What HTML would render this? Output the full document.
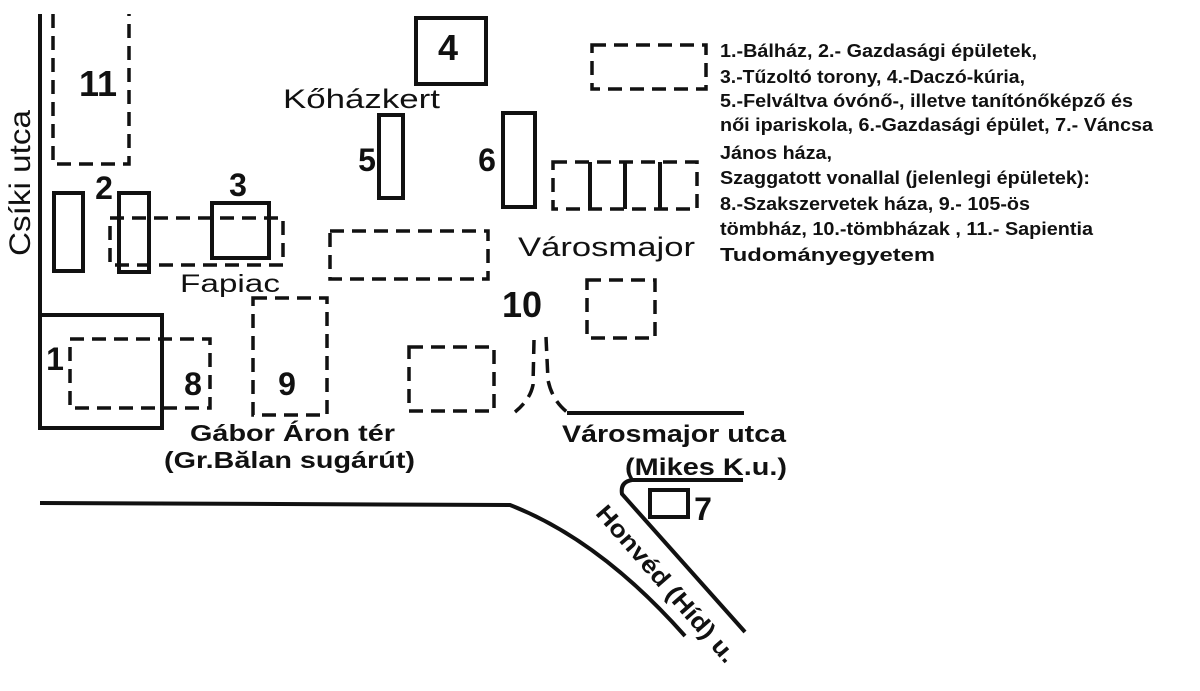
<!DOCTYPE html>
<html><head><meta charset="utf-8"><style>
html,body{margin:0;padding:0;background:#fff;width:1200px;height:691px;overflow:hidden}
svg{display:block}
text{font-family:"Liberation Sans",sans-serif;fill:#111}
.b{font-weight:bold}
</style></head><body>
<svg width="1200" height="691" viewBox="0 0 1200 691">
<g fill="none" stroke="#111" stroke-width="4">
<line x1="40" y1="14" x2="40" y2="428"/>
<rect x="40" y="315" width="122" height="113"/>
<rect x="54" y="193" width="29" height="78"/>
<rect x="119" y="193" width="30" height="79"/>
<rect x="212" y="203" width="57" height="55"/>
<rect x="416" y="18" width="70" height="66"/>
<rect x="379" y="115" width="24" height="83"/>
<rect x="503" y="113" width="32" height="94"/>
<rect x="650" y="490" width="38" height="27"/>
<path d="M40 503 L510 505 Q600 540 685 636"/>
<path d="M743 480 L632 480 Q620 482 622 494 L745 632"/>
<line x1="567" y1="413" x2="744" y2="413"/>
</g>
<g fill="none" stroke="#111" stroke-width="3.5" stroke-dasharray="14 8">
<path d="M53 14 L53 164 L129 164 L129 14"/>
<rect x="110" y="218" width="173" height="47"/>
<rect x="70" y="339" width="140" height="69"/>
<rect x="253" y="298" width="74" height="117"/>
<rect x="592" y="45" width="114" height="44"/>
<rect x="553" y="162" width="144" height="47"/>
<rect x="330" y="231" width="158" height="48"/>
<rect x="587" y="280" width="68" height="58"/>
<rect x="409" y="347" width="85" height="64"/>
<path d="M534 340 L533 385 Q530 400 515 412"/>
<path d="M546 337 L548 380 Q552 400 567 412"/>
</g>
<g stroke="#111" stroke-width="4">
<line x1="590" y1="162" x2="590" y2="209"/><line x1="625" y1="162" x2="625" y2="209"/><line x1="660" y1="162" x2="660" y2="209"/>
</g>
<text x="22" y="183" font-size="30" transform="rotate(-90 22 183)" text-anchor="middle" dominant-baseline="middle" textLength="146" lengthAdjust="spacingAndGlyphs">Csíki utca</text>
<g class="b" font-size="36" text-anchor="middle">
<text x="98" y="96" class="b">11</text>
<text x="448" y="60" class="b">4</text>
<text x="522" y="317" class="b">10</text>
</g>
<g font-size="32" text-anchor="middle">
<text x="104" y="199" class="b">2</text>
<text x="238" y="196" class="b">3</text>
<text x="367" y="171" class="b">5</text>
<text x="487" y="171" class="b">6</text>
<text x="55" y="370" class="b">1</text>
<text x="193" y="395" class="b">8</text>
<text x="287" y="395" class="b">9</text>
<text x="703" y="520" class="b">7</text>
</g>
<text x="283" y="108" font-size="27" textLength="157" lengthAdjust="spacingAndGlyphs">Kőházkert</text>
<text x="180" y="292" font-size="25" textLength="100" lengthAdjust="spacingAndGlyphs">Fapiac</text>
<text x="518" y="256" font-size="27" textLength="177" lengthAdjust="spacingAndGlyphs">Városmajor</text>
<text x="190" y="441" font-size="23" style="font-weight:600" textLength="205" lengthAdjust="spacingAndGlyphs">Gábor Áron tér</text>
<text x="164" y="468" font-size="23" style="font-weight:600" textLength="251" lengthAdjust="spacingAndGlyphs">(Gr.Bălan sugárút)</text>
<text x="562" y="442" font-size="24" style="font-weight:600" textLength="224" lengthAdjust="spacingAndGlyphs">Városmajor utca</text>
<text x="625" y="475" font-size="24" style="font-weight:600" textLength="162" lengthAdjust="spacingAndGlyphs">(Mikes K.u.)</text>
<text x="665" y="585" font-size="24" text-anchor="middle" dominant-baseline="middle" transform="rotate(49 665 585)" style="font-weight:600" textLength="200" lengthAdjust="spacingAndGlyphs">Honvéd (Híd) u.</text>
<g class="b" font-size="18">
<text x="720" y="57" textLength="317" lengthAdjust="spacingAndGlyphs">1.-Bálház, 2.- Gazdasági épületek,</text>
<text x="720" y="83" textLength="305" lengthAdjust="spacingAndGlyphs">3.-Tűzoltó torony, 4.-Daczó-kúria,</text>
<text x="720" y="107" textLength="413" lengthAdjust="spacingAndGlyphs">5.-Felváltva óvónő-, illetve tanítónőképző és</text>
<text x="720" y="131" textLength="433" lengthAdjust="spacingAndGlyphs">női ipariskola, 6.-Gazdasági épület, 7.- Váncsa</text>
<text x="720" y="159" textLength="112" lengthAdjust="spacingAndGlyphs">János  háza,</text>
<text x="720" y="184" textLength="370" lengthAdjust="spacingAndGlyphs">Szaggatott vonallal (jelenlegi épületek):</text>
<text x="720" y="210" textLength="310" lengthAdjust="spacingAndGlyphs">8.-Szakszervetek háza, 9.- 105-ös</text>
<text x="720" y="235" textLength="373" lengthAdjust="spacingAndGlyphs">tömbház, 10.-tömbházak , 11.- Sapientia</text>
<text x="720" y="261" textLength="215" lengthAdjust="spacingAndGlyphs">Tudományegyetem</text>
</g>
</svg>
</body></html>
